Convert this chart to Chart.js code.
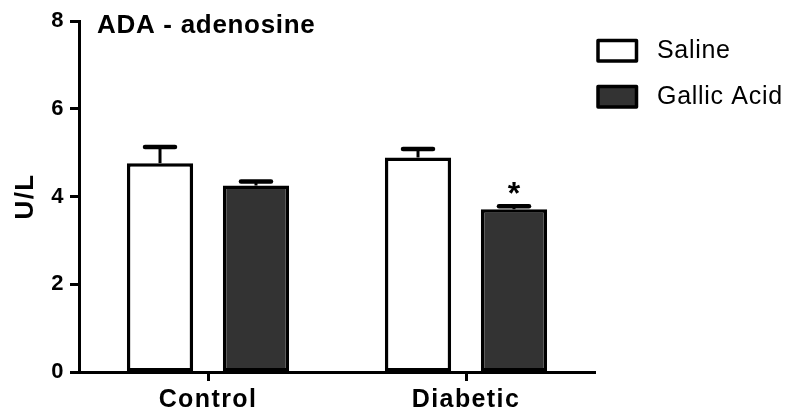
<!DOCTYPE html>
<html>
<head>
<meta charset="utf-8">
<script src="https://cdn.jsdelivr.net/npm/chart.js@4.4.1/dist/chart.umd.min.js"></script>
<style>
  html, body { margin: 0; padding: 0; background: #ffffff; }
  canvas { display: block; }
</style>
</head>
<body>
<canvas id="chart" width="806" height="417"></canvas>
<script>
// ADA activity (U/L) with adenosine substrate, mean + SEM
const categories = ['Control', 'Diabetic'];
const seriesNames = ['Saline', 'Gallic Acid'];
const salineMeans = [4.76, 4.89];
const salineErr = [0.37, 0.19];
const gallicMeans = [4.25, 3.71];
const gallicErr = [0.09, 0.07];
const gallicMarks = ['', '*'];
const salineMarks = ['', ''];
const yTicks = [0, 2, 4, 6, 8];

const FONT = '"Liberation Sans", Arial, Helvetica, sans-serif';

// Slightly tracked-out lettering for the axis labels
const tracking = {
  id: 'tracking',
  beforeDraw(chart) { chart.ctx.letterSpacing = '1.4px'; },
  beforeDatasetsDraw(chart) { chart.ctx.letterSpacing = '0px'; }
};

// Upward SEM whiskers plus significance marks above them
const errorBars = {
  id: 'errorBars',
  afterDatasetsDraw(chart) {
    const ctx = chart.ctx;
    const y = chart.scales.y;
    chart.data.datasets.forEach((ds, di) => {
      const meta = chart.getDatasetMeta(di);
      meta.data.forEach((bar, i) => {
        const top = y.getPixelForValue(ds.data[i] + ds.errors[i]);
        ctx.save();
        ctx.strokeStyle = '#000';
        ctx.lineWidth = 3;
        ctx.beginPath();
        ctx.moveTo(bar.x, bar.y);
        ctx.lineTo(bar.x, top);
        ctx.stroke();
        ctx.lineWidth = 4.5;
        ctx.lineCap = 'round';
        ctx.beginPath();
        ctx.moveTo(bar.x - 15, top);
        ctx.lineTo(bar.x + 15, top);
        ctx.stroke();
        const mark = ds.marks[i];
        if (mark) {
          ctx.fillStyle = '#000';
          ctx.font = 'bold 32px ' + FONT;
          ctx.textAlign = 'center';
          ctx.textBaseline = 'middle';
          ctx.fillText(mark, bar.x, top - 11);
        }
        ctx.restore();
      });
    });
  }
};

// Panel heading inside the plot area
const panelTitle = {
  id: 'panelTitle',
  afterDraw(chart) {
    const ctx = chart.ctx;
    const a = chart.chartArea;
    ctx.save();
    ctx.letterSpacing = '0.7px';
    ctx.fillStyle = '#000';
    ctx.font = 'bold 26px ' + FONT;
    ctx.textAlign = 'left';
    ctx.textBaseline = 'alphabetic';
    ctx.fillText('ADA - adenosine', a.left + 18, a.top + 12);
    ctx.restore();
  }
};

// Boxed legend to the right of the plot
const sideLegend = {
  id: 'sideLegend',
  afterDraw(chart) {
    const ctx = chart.ctx;
    const a = chart.chartArea;
    const x0 = a.right + 3;
    let y0 = 40.5;
    chart.data.datasets.forEach(ds => {
      ctx.save();
      ctx.fillStyle = ds.backgroundColor;
      ctx.strokeStyle = '#000';
      ctx.lineWidth = 3.5;
      ctx.lineJoin = 'round';
      ctx.fillRect(x0, y0, 38.5, 20.5);
      ctx.strokeRect(x0, y0, 38.5, 20.5);
      ctx.letterSpacing = '0.7px';
      ctx.fillStyle = '#000';
      ctx.font = '25px ' + FONT;
      ctx.textAlign = 'left';
      ctx.textBaseline = 'middle';
      ctx.fillText(ds.label, x0 + 59, y0 + 11);
      ctx.restore();
      y0 += 46;
    });
  }
};

new Chart(document.getElementById('chart'), {
  type: 'bar',
  data: {
    labels: categories,
    datasets: [
      {
        label: seriesNames[0],
        data: salineMeans,
        errors: salineErr,
        marks: salineMarks,
        backgroundColor: '#ffffff',
        borderColor: '#000000',
        borderWidth: 3.5,
        borderSkipped: false
      },
      {
        label: seriesNames[1],
        data: gallicMeans,
        errors: gallicErr,
        marks: gallicMarks,
        backgroundColor: '#333333',
        borderColor: '#000000',
        borderWidth: 3.5,
        borderSkipped: false
      }
    ]
  },
  options: {
    responsive: false,
    animation: false,
    devicePixelRatio: 1,
    categoryPercentage: 0.744,
    barPercentage: 0.69,
    layout: { padding: { left: 0, right: 211, top: 21, bottom: 0 } },
    plugins: {
      legend: { display: false },
      tooltip: { enabled: false },
      title: { display: false }
    },
    scales: {
      x: {
        afterFit(scale) { scale.height = 45; },
        grid: {
          offset: false,
          drawOnChartArea: false,
          drawTicks: true,
          tickLength: 9,
          tickWidth: 3,
          tickColor: '#000'
        },
        border: { display: true, color: '#000', width: 3 },
        ticks: {
          color: '#000',
          padding: 4,
          font: { family: FONT, size: 25, weight: 'bold' }
        }
      },
      y: {
        min: 0,
        max: 8,
        afterFit(scale) { scale.width = 79; },
        afterBuildTicks(scale) { scale.ticks = yTicks.map(v => ({ value: v })); },
        grid: {
          drawOnChartArea: false,
          drawTicks: true,
          tickLength: 9,
          tickWidth: 3,
          tickColor: '#000'
        },
        border: { display: true, color: '#000', width: 3 },
        ticks: {
          color: '#000',
          padding: 5,
          font: { family: FONT, size: 22, weight: 'bold' }
        },
        title: {
          display: true,
          text: 'U/L',
          color: '#000',
          padding: { top: 10, bottom: 0 },
          font: { family: FONT, size: 26, weight: 'bold' }
        }
      }
    }
  },
  plugins: [tracking, errorBars, panelTitle, sideLegend]
});
</script>
</body>
</html>
